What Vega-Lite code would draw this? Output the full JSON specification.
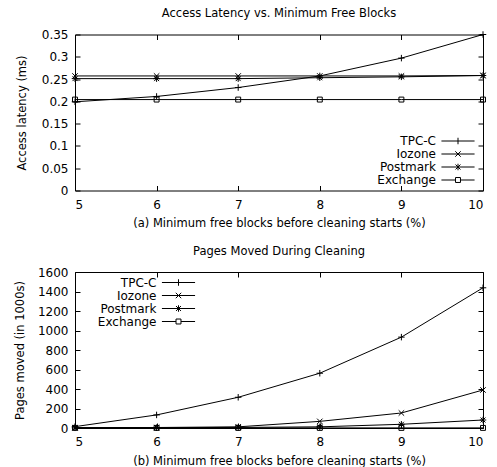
{
  "$schema": "https://vega.github.io/schema/vega-lite/v6.json",
  "padding": {"left": 13, "top": 7.5, "right": 5, "bottom": 0},
  "background": "white",
  "config": {
    "font": "DejaVu Sans",
    "view": {"stroke": "black", "strokeWidth": 1},
    "axis": {
      "grid": false, "domain": false, "tickColor": "black", "tickSize": -5, "labelPadding": 12,
      "labelColor": "black", "labelFontSize": 12, "labelFont": "DejaVu Sans",
      "titleColor": "black", "titleFontSize": 11.5, "titleFontWeight": "normal", "titleFont": "DejaVu Sans"
    },
    "axisX": {"labelPadding": 13.5, "titlePadding": 7.5},
    "legend": {
      "orient": "none", "title": null, "padding": 0,
      "symbolSize": 169, "symbolStrokeColor": "black", "symbolFillColor": "transparent", "symbolStrokeWidth": 1, "symbolOpacity": 1,
      "labelAlign": "right", "labelOffset": -29, "labelFontSize": 12, "labelFont": "DejaVu Sans", "labelColor": "black", "rowPadding": 0
    },
    "title": {"fontSize": 11.5, "fontWeight": "normal", "color": "black", "font": "DejaVu Sans", "offset": 9}
  },
  "datasets": {
    "latency": [
      {"series": "TPC-C", "x": 5, "y": 0.199}, {"series": "TPC-C", "x": 6, "y": 0.211}, {"series": "TPC-C", "x": 7, "y": 0.231},
      {"series": "TPC-C", "x": 8, "y": 0.257}, {"series": "TPC-C", "x": 9, "y": 0.297}, {"series": "TPC-C", "x": 10, "y": 0.35},
      {"series": "Iozone", "x": 5, "y": 0.257}, {"series": "Iozone", "x": 6, "y": 0.257}, {"series": "Iozone", "x": 7, "y": 0.257},
      {"series": "Iozone", "x": 8, "y": 0.257}, {"series": "Iozone", "x": 9, "y": 0.257}, {"series": "Iozone", "x": 10, "y": 0.258},
      {"series": "Postmark", "x": 5, "y": 0.251}, {"series": "Postmark", "x": 6, "y": 0.251}, {"series": "Postmark", "x": 7, "y": 0.251},
      {"series": "Postmark", "x": 8, "y": 0.253}, {"series": "Postmark", "x": 9, "y": 0.255}, {"series": "Postmark", "x": 10, "y": 0.258},
      {"series": "Exchange", "x": 5, "y": 0.204}, {"series": "Exchange", "x": 6, "y": 0.204}, {"series": "Exchange", "x": 7, "y": 0.204},
      {"series": "Exchange", "x": 8, "y": 0.204}, {"series": "Exchange", "x": 9, "y": 0.204}, {"series": "Exchange", "x": 10, "y": 0.204}
    ],
    "pages": [
      {"series": "TPC-C", "x": 5, "y": 14}, {"series": "TPC-C", "x": 6, "y": 134}, {"series": "TPC-C", "x": 7, "y": 315},
      {"series": "TPC-C", "x": 8, "y": 562}, {"series": "TPC-C", "x": 9, "y": 932}, {"series": "TPC-C", "x": 10, "y": 1438},
      {"series": "Iozone", "x": 5, "y": 3}, {"series": "Iozone", "x": 6, "y": 5}, {"series": "Iozone", "x": 7, "y": 12},
      {"series": "Iozone", "x": 8, "y": 68}, {"series": "Iozone", "x": 9, "y": 154}, {"series": "Iozone", "x": 10, "y": 390},
      {"series": "Postmark", "x": 5, "y": 2}, {"series": "Postmark", "x": 6, "y": 3}, {"series": "Postmark", "x": 7, "y": 6},
      {"series": "Postmark", "x": 8, "y": 12}, {"series": "Postmark", "x": 9, "y": 38}, {"series": "Postmark", "x": 10, "y": 82},
      {"series": "Exchange", "x": 5, "y": 1}, {"series": "Exchange", "x": 6, "y": 1}, {"series": "Exchange", "x": 7, "y": 1},
      {"series": "Exchange", "x": 8, "y": 1}, {"series": "Exchange", "x": 9, "y": 1}, {"series": "Exchange", "x": 10, "y": 1}
    ]
  },
  "resolve": {"scale": {"x": "independent", "y": "independent", "shape": "independent"}, "legend": {"shape": "independent"}},
  "spacing": 15.5,
  "vconcat": [
    {
      "title": "Access Latency vs. Minimum Free Blocks",
      "width": 408, "height": 156,
      "data": {"name": "latency"},
      "resolve": {"axis": {"x": "independent", "y": "independent"}, "scale": {"shape": "independent"}, "legend": {"shape": "independent"}},
      "layer": [
        {
          "mark": {"type": "line", "color": "black", "strokeWidth": 1},
          "encoding": {
            "x": {"field": "x", "type": "quantitative", "scale": {"domain": [5, 10], "nice": false},
                  "axis": {"values": [5, 6, 7, 8, 9, 10], "title": "(a) Minimum free blocks before cleaning starts (%)"}},
            "y": {"field": "y", "type": "quantitative", "scale": {"domain": [0, 0.35], "nice": false},
                  "axis": {"values": [0, 0.05, 0.1, 0.15, 0.2, 0.25, 0.3, 0.35], "format": "~g", "title": "Access latency (ms)", "minExtent": 36, "titlePadding": 12}},
            "detail": {"field": "series"}
          }
        },
        {
          "mark": {"type": "point", "filled": false, "color": "black", "strokeWidth": 1, "size": 169, "opacity": 1},
          "encoding": {
            "x": {"field": "x", "type": "quantitative", "axis": {"orient": "top", "values": [5, 6, 7, 8, 9, 10], "labels": false, "title": null}},
            "y": {"field": "y", "type": "quantitative", "axis": {"orient": "right", "values": [0, 0.05, 0.1, 0.15, 0.2, 0.25, 0.3, 0.35], "labels": false, "title": null}},
            "shape": {
              "field": "series", "type": "nominal", "legend": null,
              "scale": {
                "domain": ["TPC-C", "Iozone", "Postmark", "Exchange"],
                "range": [
                  "M-0.5,0H0.5M0,-0.5V0.5",
                  "M-0.42,-0.42L0.42,0.42M-0.42,0.42L0.42,-0.42",
                  "M-0.5,0H0.5M0,-0.5V0.5M-0.38,-0.38L0.38,0.38M-0.38,0.38L0.38,-0.38",
                  "M-0.38,-0.38H0.38V0.38H-0.38Z"
                ]
              }
            }
          }
        },
        {
          "mark": {"type": "point", "filled": false, "color": "black", "strokeWidth": 1, "size": 169, "opacity": 0},
          "encoding": {
            "x": {"field": "x", "type": "quantitative", "axis": null},
            "y": {"field": "y", "type": "quantitative", "axis": null},
            "shape": {
              "field": "series", "type": "nominal",
              "scale": {
                "domain": ["TPC-C", "Iozone", "Postmark", "Exchange"],
                "range": [
                  "M-2.55,0H2.55M0,-0.5V0.5",
                  "M-2.55,0H2.55M-0.42,-0.42L0.42,0.42M-0.42,0.42L0.42,-0.42",
                  "M-2.55,0H2.55M0,-0.5V0.5M-0.38,-0.38L0.38,0.38M-0.38,0.38L0.38,-0.38",
                  "M-2.55,0H-0.38M0.38,0H2.55M-0.38,-0.38H0.38V0.38H-0.38Z"
                ]
              },
              "legend": {"legendX": 376, "legendY": 99.5}
            }
          }
        }
      ]
    },
    {
      "title": "Pages Moved During Cleaning",
      "width": 408, "height": 156,
      "data": {"name": "pages"},
      "resolve": {"axis": {"x": "independent", "y": "independent"}, "scale": {"shape": "independent"}, "legend": {"shape": "independent"}},
      "layer": [
        {
          "mark": {"type": "line", "color": "black", "strokeWidth": 1},
          "encoding": {
            "x": {"field": "x", "type": "quantitative", "scale": {"domain": [5, 10], "nice": false},
                  "axis": {"values": [5, 6, 7, 8, 9, 10], "title": "(b) Minimum free blocks before cleaning starts (%)"}},
            "y": {"field": "y", "type": "quantitative", "scale": {"domain": [0, 1600], "nice": false},
                  "axis": {"values": [0, 200, 400, 600, 800, 1000, 1200, 1400, 1600], "format": "d", "title": "Pages moved (in 1000s)", "minExtent": 36, "titlePadding": 12}},
            "detail": {"field": "series"}
          }
        },
        {
          "mark": {"type": "point", "filled": false, "color": "black", "strokeWidth": 1, "size": 169, "opacity": 1},
          "encoding": {
            "x": {"field": "x", "type": "quantitative", "axis": {"orient": "top", "values": [5, 6, 7, 8, 9, 10], "labels": false, "title": null}},
            "y": {"field": "y", "type": "quantitative", "axis": {"orient": "right", "values": [0, 200, 400, 600, 800, 1000, 1200, 1400, 1600], "labels": false, "title": null}},
            "shape": {
              "field": "series", "type": "nominal", "legend": null,
              "scale": {
                "domain": ["TPC-C", "Iozone", "Postmark", "Exchange"],
                "range": [
                  "M-0.5,0H0.5M0,-0.5V0.5",
                  "M-0.42,-0.42L0.42,0.42M-0.42,0.42L0.42,-0.42",
                  "M-0.5,0H0.5M0,-0.5V0.5M-0.38,-0.38L0.38,0.38M-0.38,0.38L0.38,-0.38",
                  "M-0.38,-0.38H0.38V0.38H-0.38Z"
                ]
              }
            }
          }
        },
        {
          "mark": {"type": "point", "filled": false, "color": "black", "strokeWidth": 1, "size": 169, "opacity": 0},
          "encoding": {
            "x": {"field": "x", "type": "quantitative", "axis": null},
            "y": {"field": "y", "type": "quantitative", "axis": null},
            "shape": {
              "field": "series", "type": "nominal",
              "scale": {
                "domain": ["TPC-C", "Iozone", "Postmark", "Exchange"],
                "range": [
                  "M-2.55,0H2.55M0,-0.5V0.5",
                  "M-2.55,0H2.55M-0.42,-0.42L0.42,0.42M-0.42,0.42L0.42,-0.42",
                  "M-2.55,0H2.55M0,-0.5V0.5M-0.38,-0.38L0.38,0.38M-0.38,0.38L0.38,-0.38",
                  "M-2.55,0H-0.38M0.38,0H2.55M-0.38,-0.38H0.38V0.38H-0.38Z"
                ]
              },
              "legend": {"legendX": 96.5, "legendY": 3.5}
            }
          }
        }
      ]
    }
  ]
}
